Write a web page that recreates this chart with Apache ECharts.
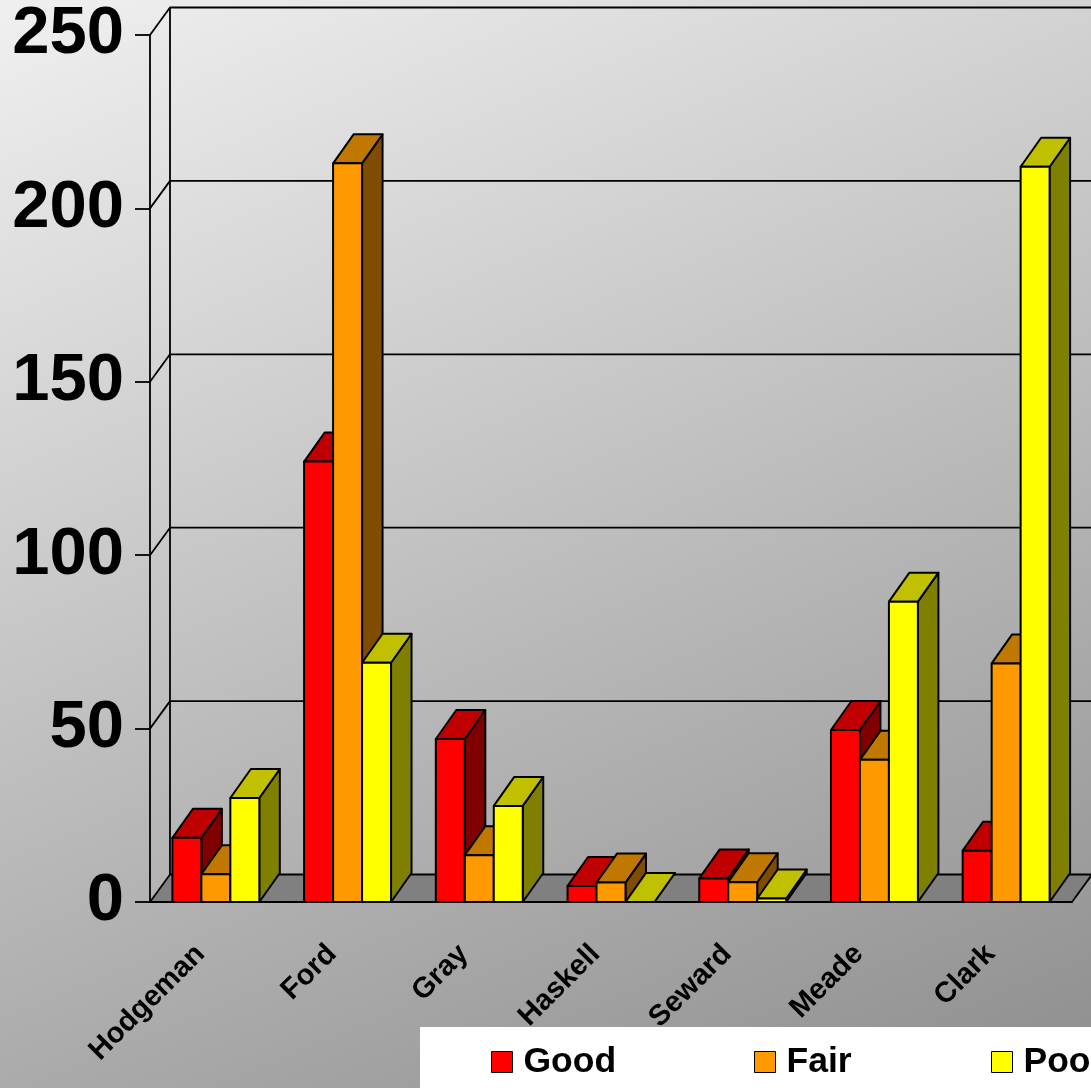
<!DOCTYPE html>
<html>
<head>
<meta charset="utf-8">
<script src="https://cdn.jsdelivr.net/npm/echarts@6/dist/echarts.min.js"></script>
<style>
html, body { margin: 0; padding: 0; }
#chart { width: 1091px; height: 1088px; }
</style>
</head>
<body>
<div id="chart"></div>
<script>
// Road condition counts per county
const counties = ['Hodgeman', 'Ford', 'Gray', 'Haskell', 'Seward', 'Meade', 'Clark'];
const good = [18.5, 127, 47, 4.6, 6.8, 49.6, 14.8];
const fair = [8, 213, 13.5, 5.6, 5.7, 41, 68.8];
const poor = [30, 69, 27.7, 0, 1, 86.6, 212];
const valueTicks = [0, 50, 100, 150, 200, 250];
const ratings = ['Good', 'Fair', 'Poor'];

// depth offsets (px) for the pseudo-3D box: walls/floor and column tops
const WALL_DX = 20, WALL_DY = -27.5;
const BAR_DX = 20.5, BAR_DY = -29;

const shades = {
  Good: { front: '#ff0000', top: '#c00000', side: '#800000' },
  Fair: { front: '#ff9900', top: '#c07800', side: '#804c00' },
  Poor: { front: '#ffff00', top: '#c0c000', side: '#808000' }
};

const barEdge = { stroke: '#000', lineWidth: 2, lineJoin: 'round' };
const wallEdge = { stroke: '#000', lineWidth: 1.8, lineJoin: 'round' };
const FONT = '"Liberation Sans", Arial, sans-serif';

// back wall, gridlines and floor
function renderFrame(params, api) {
  const cs = params.coordSys;
  const L = cs.x, R = cs.x + cs.width;
  const v = api.value(1);
  const y = api.coord([0, v])[1];
  const children = [];
  if (v === 0) {
    children.push({
      type: 'polygon',
      shape: { points: [[L, y], [R, y], [R + WALL_DX, y + WALL_DY], [L + WALL_DX, y + WALL_DY]] },
      style: Object.assign({ fill: '#808080' }, wallEdge)
    });
    const yTop = api.coord([0, valueTicks[valueTicks.length - 1]])[1];
    children.push({
      type: 'line',
      shape: { x1: L + WALL_DX, y1: y + WALL_DY, x2: L + WALL_DX, y2: yTop + WALL_DY },
      style: wallEdge
    });
  } else {
    children.push({
      type: 'polyline',
      shape: { points: [[L, y], [L + WALL_DX, y + WALL_DY], [R + WALL_DX + 40, y + WALL_DY]] },
      style: Object.assign({ fill: null }, wallEdge)
    });
  }
  return { type: 'group', children: children };
}

// one 3D column: side face, top face, front face
function columnRenderer(slot, shade) {
  return function (params, api) {
    const cat = api.value(0), val = api.value(1);
    const base = api.coord([cat, 0]);
    const top = api.coord([cat, val]);
    const catW = api.size([1, 0])[0];
    const bw = catW * 0.22;
    const x0 = base[0] - 1.5 * bw + slot * bw, x1 = x0 + bw;
    const yb = base[1], yt = top[1];
    return {
      type: 'group',
      children: [
        { type: 'polygon',
          shape: { points: [[x1, yb], [x1 + BAR_DX, yb + BAR_DY], [x1 + BAR_DX, yt + BAR_DY], [x1, yt]] },
          style: Object.assign({ fill: shade.side }, barEdge) },
        { type: 'polygon',
          shape: { points: [[x0, yt], [x1, yt], [x1 + BAR_DX, yt + BAR_DY], [x0 + BAR_DX, yt + BAR_DY]] },
          style: Object.assign({ fill: shade.top }, barEdge) },
        { type: 'rect',
          shape: { x: x0, y: yt, width: bw, height: yb - yt },
          style: Object.assign({ fill: shade.front }, barEdge) }
      ]
    };
  };
}

function columnSeries(name, values, slot) {
  return {
    name: name,
    type: 'custom',
    z: 3,
    itemStyle: { color: shades[name].front },
    encode: { x: 0, y: 1 },
    data: values.map((v, i) => [i, v]),
    renderItem: columnRenderer(slot, shades[name])
  };
}

// one legend entry per rating, spaced along the white strip
const legendLeft = [491, 754, 991];
const legends = ratings.map((name, i) => ({
  data: [name],
  left: legendLeft[i], top: 1044, padding: 0,
  itemWidth: 21, itemHeight: 21,
  icon: 'rect', selectedMode: false,
  itemStyle: { borderColor: '#000', borderWidth: 1 },
  textStyle: { fontSize: 35.5, fontWeight: 'bold', fontFamily: FONT, color: '#000', padding: [0, 0, 0, 6] }
}));

const chart = echarts.init(document.getElementById('chart'));
chart.setOption({
  animation: false,
  backgroundColor: {
    type: 'linear', x: 0, y: 0, x2: 0.5, y2: 1.2,
    colorStops: [{ offset: 0, color: '#f0f0f0' }, { offset: 1, color: '#8e8e8e' }]
  },
  graphic: [{
    type: 'rect', z: -1,
    shape: { x: 420, y: 1027, width: 700, height: 80 },
    style: { fill: '#ffffff' }
  }],
  grid: { left: 150, right: 19, top: 35, bottom: 186, containLabel: false },
  xAxis: {
    type: 'category',
    data: counties,
    axisLine: { lineStyle: { color: '#000', width: 1.8 } },
    axisTick: { length: 14, lineStyle: { color: '#000', width: 1.8 } },
    axisLabel: {
      interval: 0, rotate: 45, margin: 32,
      fontSize: 29, fontWeight: 'bold', fontFamily: FONT, color: '#000',
      padding: [0, 22, 0, 0]
    },
    splitLine: { show: false }
  },
  yAxis: {
    type: 'value', min: 0, max: 250, interval: 50,
    axisLine: { show: true, lineStyle: { color: '#000', width: 1.8 } },
    axisTick: { show: true, length: 15, lineStyle: { color: '#000', width: 1.8 } },
    axisLabel: { margin: 26, fontSize: 67, fontWeight: 'bold', fontFamily: FONT, color: '#000' },
    splitLine: { show: false }
  },
  legend: legends,
  series: [
    {
      type: 'custom',
      z: 1,
      silent: true,
      encode: { x: 0, y: 1 },
      data: valueTicks.map(v => [0, v]),
      renderItem: renderFrame
    },
    columnSeries('Good', good, 0),
    columnSeries('Fair', fair, 1),
    columnSeries('Poor', poor, 2)
  ]
});
</script>
</body>
</html>
